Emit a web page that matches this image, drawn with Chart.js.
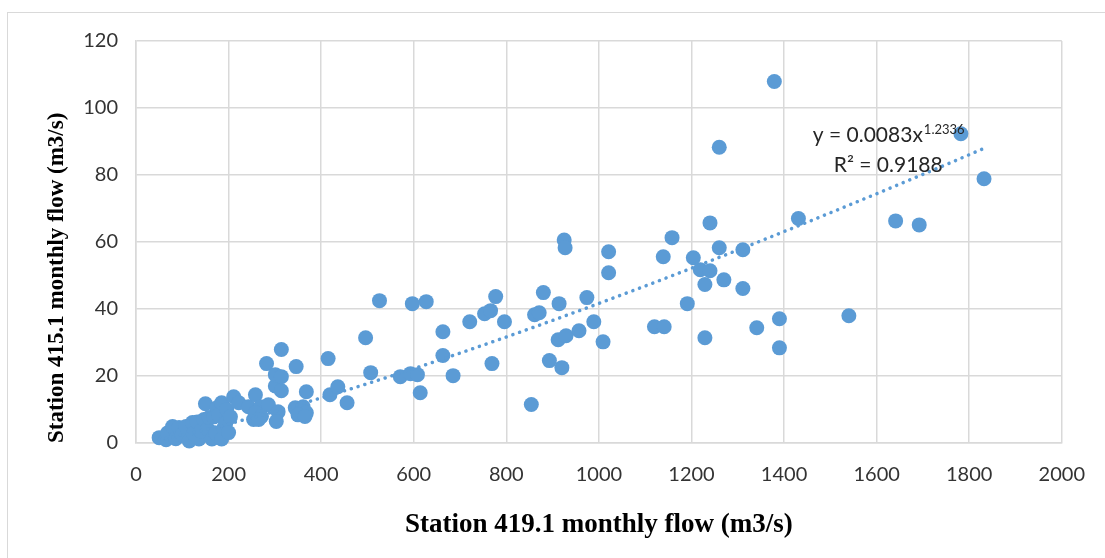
<!DOCTYPE html>
<html>
<head>
<meta charset="utf-8">
<title>Station flow correlation</title>
<script src="https://cdn.jsdelivr.net/npm/chart.js@4.4.0/dist/chart.umd.min.js"></script>
<style>
  html, body { margin: 0; padding: 0; background: #fff; }
  #wrap { position: relative; width: 1105px; height: 558px; overflow: hidden; }
  #frame { position: absolute; left: 7px; top: 12px; width: 1200px; height: 700px; border: 1px solid #d9d9d9; }
  #flowChart { position: absolute; left: 0; top: 0; }
</style>
</head>
<body>
<div id="wrap">
  <div id="frame"></div>
  <canvas id="flowChart" width="1105" height="558"></canvas>
</div>
<script>
// monthly flows, station 419.1 (x) against station 415.1 (y), m3/s
const FLOW_419 = [
  50, 65, 68, 79, 86, 93, 100, 108, 115, 122, 125, 132, 136, 140, 147, 150, 155, 158, 164, 168,
  172, 175, 179, 185, 185, 190, 194, 196, 200, 204, 211, 222, 243, 254,
  258, 269, 286, 258, 271, 265, 301, 314, 307, 303, 344, 361, 368, 350, 365, 368,
  282, 314, 346, 301, 314, 415, 419, 436, 456, 496, 507, 526,
  571, 593, 608, 614, 597, 627, 663, 663, 685, 721, 753, 766, 777, 796, 769, 854, 861, 871,
  880, 914, 893, 920, 912, 929, 957, 989, 974, 1009, 1021, 925, 927, 1021, 1120, 1141, 1191,
  1139, 1158, 1240, 1431, 1641, 1692, 1204, 1260, 1311, 1219, 1240, 1229, 1270, 1311, 1229,
  1341, 1390, 1390, 1540, 1379, 1260, 1782, 1832
];
const FLOW_415 = [
  1.6, 1.0, 3.0, 4.9, 1.3, 4.6, 2.5, 4.9, 0.6, 6.1, 2.8, 6.3, 1.2, 3.5, 7.0, 11.7, 4.2, 7.6, 1.2, 7.8,
  3.0, 10.5, 8.4, 12.0, 1.2, 4.5, 6.0, 10.0, 3.1, 7.8, 13.8, 12.0, 10.8, 7.0,
  14.4, 10.8, 11.4, 9.0, 7.9, 7.0, 17.0, 15.6, 9.3, 6.4, 10.5, 10.8, 9.0, 8.4, 7.9, 15.3,
  23.7, 27.9, 22.8, 20.4, 19.8, 25.2, 14.4, 16.8, 12.0, 31.4, 21.0, 42.5,
  19.8, 20.7, 20.4, 15.0, 41.6, 42.2, 33.2, 26.1, 20.1, 36.2, 38.6, 39.5, 43.7, 36.2, 23.7, 11.5, 38.3, 38.9,
  44.9, 41.6, 24.6, 22.5, 30.8, 32.0, 33.5, 36.2, 43.4, 30.2, 50.8, 60.6, 58.3, 57.1, 34.7, 34.7, 41.6,
  55.6, 61.3, 65.7, 67.0, 66.3, 65.1, 55.3, 58.3, 57.7, 51.7, 51.4, 47.3, 48.7, 46.1, 31.4,
  34.4, 37.1, 28.4, 38.0, 107.9, 88.3, 92.3, 78.9
];

// power trend fitted in the spreadsheet: y = a * x^b
const TREND_A = 0.0083;
const TREND_B = 1.2336;
const TREND_R2 = 0.9188;

const X_MIN = 0, X_MAX = 2000, X_STEP = 200;
const Y_MIN = 0, Y_MAX = 120, Y_STEP = 20;

const BLUE = '#5B9BD5';
const GRID = '#d9d9d9';
const TICK_COLOR = '#333333';

const points = FLOW_419.map((x, i) => ({ x: x, y: FLOW_415[i] }));

const lo = Math.min(...FLOW_419), hi = Math.max(...FLOW_419);
const trend = [];
for (let i = 0; i <= 80; i++) {
  const x = lo + (hi - lo) * i / 80;
  trend.push({ x: x, y: TREND_A * Math.pow(x, TREND_B) });
}

// equation label drawn next to the end of the trend line
const trendLabel = {
  id: 'trendLabel',
  afterDatasetsDraw(chart) {
    const ctx = chart.ctx;
    const xs = chart.scales.x, ys = chart.scales.y;
    const cx = xs.getPixelForValue(1625);
    const y1 = ys.getPixelForValue(89.9);
    const y2 = ys.getPixelForValue(80.9);
    ctx.save();
    ctx.fillStyle = '#262626';
    ctx.textBaseline = 'alphabetic';
    ctx.textAlign = 'left';

    const main = 'y = ' + TREND_A + 'x';
    const sup = String(TREND_B);
    ctx.font = '21px Lato';
    const wMain = ctx.measureText(main).width;
    ctx.font = '13px Lato';
    const wSup = ctx.measureText(sup).width;
    let start = cx - (wMain + wSup) / 2;
    ctx.font = '21px Lato';
    ctx.fillText(main, start, y1);
    ctx.font = '13px Lato';
    ctx.fillText(sup, start + wMain + 1, y1 - 8);

    ctx.font = '21px Lato';
    ctx.textAlign = 'center';
    ctx.fillText('R\u00B2 = ' + TREND_R2, cx, y2);
    ctx.restore();
  }
};

new Chart(document.getElementById('flowChart'), {
  type: 'scatter',
  data: {
    datasets: [
      {
        label: 'Power trend',
        data: trend,
        showLine: true,
        pointRadius: 0,
        borderColor: BLUE,
        borderWidth: 3.5,
        borderDash: [0.1, 7],
        borderCapStyle: 'round',
        tension: 0,
        fill: false
      },
      {
        label: 'Monthly flow',
        data: points,
        pointRadius: 7.5,
        pointHoverRadius: 7.5,
        backgroundColor: BLUE,
        borderWidth: 0,
        clip: false
      }
    ]
  },
  options: {
    responsive: false,
    animation: false,
    layout: { padding: { top: 41, right: 34, left: 0, bottom: 0 } },
    plugins: {
      legend: { display: false },
      tooltip: { enabled: false }
    },
    scales: {
      x: {
        type: 'linear',
        min: X_MIN,
        max: X_MAX,
        ticks: {
          stepSize: X_STEP,
          padding: 20,
          color: TICK_COLOR,
          font: { family: 'Lato', size: 20 },
          callback: (v) => String(v)
        },
        grid: { color: GRID, lineWidth: 1.5, drawTicks: false },
        border: { color: GRID, width: 1.5 },
        title: {
          display: true,
          text: 'Station 419.1 monthly flow (m3/s)',
          color: '#000',
          font: { family: 'Liberation Serif', weight: 'bold', size: 27 },
          padding: { top: 0, bottom: 17 }
        },
        afterFit(scale) { scale.height = 115; }
      },
      y: {
        type: 'linear',
        min: Y_MIN,
        max: Y_MAX,
        ticks: {
          stepSize: Y_STEP,
          padding: 18,
          color: TICK_COLOR,
          font: { family: 'Lato', size: 20 },
          callback: (v) => String(v)
        },
        grid: { color: GRID, lineWidth: 1.5, drawTicks: false },
        border: { color: GRID, width: 1.5 },
        title: {
          display: true,
          text: 'Station 415.1 monthly flow (m3/s)',
          color: '#000',
          align: 'start',
          font: { family: 'Liberation Serif', weight: 'bold', size: 23 },
          padding: { top: 43, bottom: 0 }
        },
        afterFit(scale) { scale.width = 136; }
      }
    }
  },
  plugins: [trendLabel]
});
</script>
</body>
</html>
